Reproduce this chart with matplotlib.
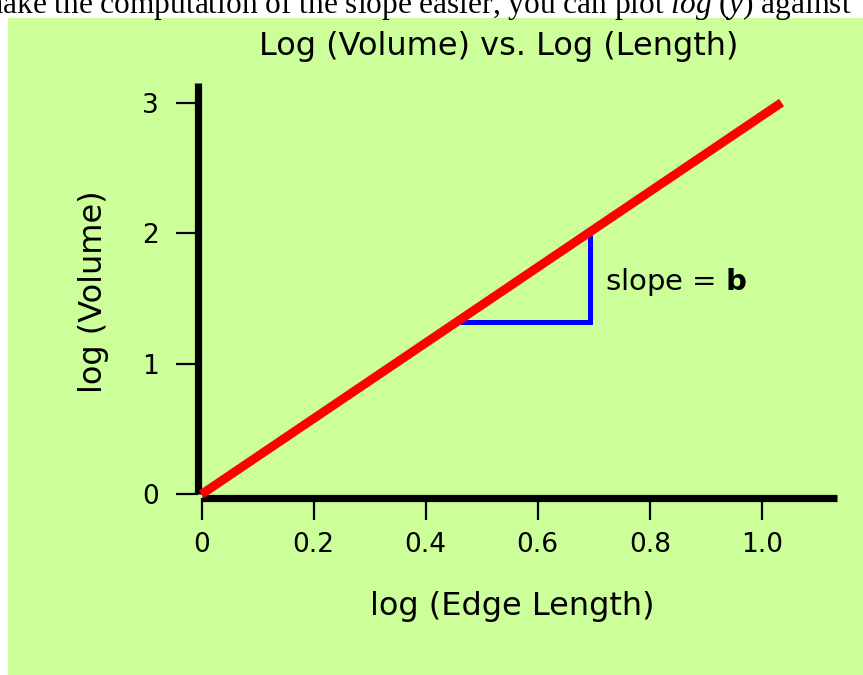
import matplotlib.pyplot as plt
from matplotlib.patches import Rectangle

# data
line_x = [0.0, 1.035]
line_y = [0.0, 3.0]
tri_x = [0.461, 0.694, 0.694]
tri_y = [1.316, 1.316, 1.985]
x_ticks = [0, 0.2, 0.4, 0.6, 0.8, 1.0]
x_ticklabels = ["0", "0.2", "0.4", "0.6", "0.8", "1.0"]
y_ticks = [0, 1, 2, 3]
y_ticklabels = ["0", "1", "2", "3"]

plt.rcParams['font.family'] = 'DejaVu Sans'
plt.rcParams['mathtext.fontset'] = 'custom'
plt.rcParams['mathtext.rm'] = 'Liberation Serif'
plt.rcParams['mathtext.it'] = 'Liberation Serif:italic'
plt.rcParams['mathtext.bf'] = 'DejaVu Sans:bold'

W, H = 863, 675
fig = plt.figure(figsize=(W / 100, H / 100), dpi=100)
fig.patch.set_facecolor("white")

# green panel
fig.patches.append(Rectangle((8 / W, 0), 1, 1 - 18 / H, transform=fig.transFigure,
                             facecolor="#ccff99", edgecolor="none", zorder=-5))

# clipped line of page text above the chart (cut off in the reference too)
fig.text(-22 / W, 1 - 13 / H,
         r"make the computation of the slope easier, you can plot $log\ (y)$ against",
         family="Liberation Serif", fontsize=22.6, va="baseline", ha="left", zorder=1)

ax = fig.add_axes([201.5 / W, 1 - 494.3 / H, (837 - 201.5) / W, (494.3 - 83) / H])
ax.set_facecolor("none")
ax.set_xlim(0, 1.134)
ax.set_ylim(0, 3.15)

ax.plot(tri_x, tri_y, color="#0000ff", lw=3.6, solid_capstyle="butt",
        solid_joinstyle="miter", zorder=3, clip_on=False)
ax.plot(line_x, line_y, color="#ff0000", lw=6.4, solid_capstyle="butt", zorder=4, clip_on=False)

ax.text(0.72, 1.627, r"slope = $\mathbf{b}$", fontsize=21, va="center", ha="left")

for s in ["top", "right"]:
    ax.spines[s].set_visible(False)
for s in ["left", "bottom"]:
    ax.spines[s].set_linewidth(5.2)
    ax.spines[s].set_position(("outward", 2.5))
    ax.spines[s].set_capstyle("butt")

ax.set_xticks(x_ticks)
ax.set_xticklabels(x_ticklabels)
ax.set_yticks(y_ticks)
ax.set_yticklabels(y_ticklabels)
ax.tick_params(axis="both", direction="out", length=16, width=1.6, labelsize=19)
ax.tick_params(axis="x", pad=9)
ax.tick_params(axis="y", pad=12)

fig.text(499 / W, 1 - 55 / H, "Log (Volume) vs. Log (Length)", fontsize=23,
         ha="center", va="baseline")
fig.text(512 / W, 1 - 607 / H, "log (Edge Length)", fontsize=23, ha="center", va="center")
fig.text(93 / W, 1 - 292 / H, "log (Volume)", fontsize=23, ha="center", va="center",
         rotation=90)

fig.savefig("out.png", dpi=100, facecolor=fig.get_facecolor())
